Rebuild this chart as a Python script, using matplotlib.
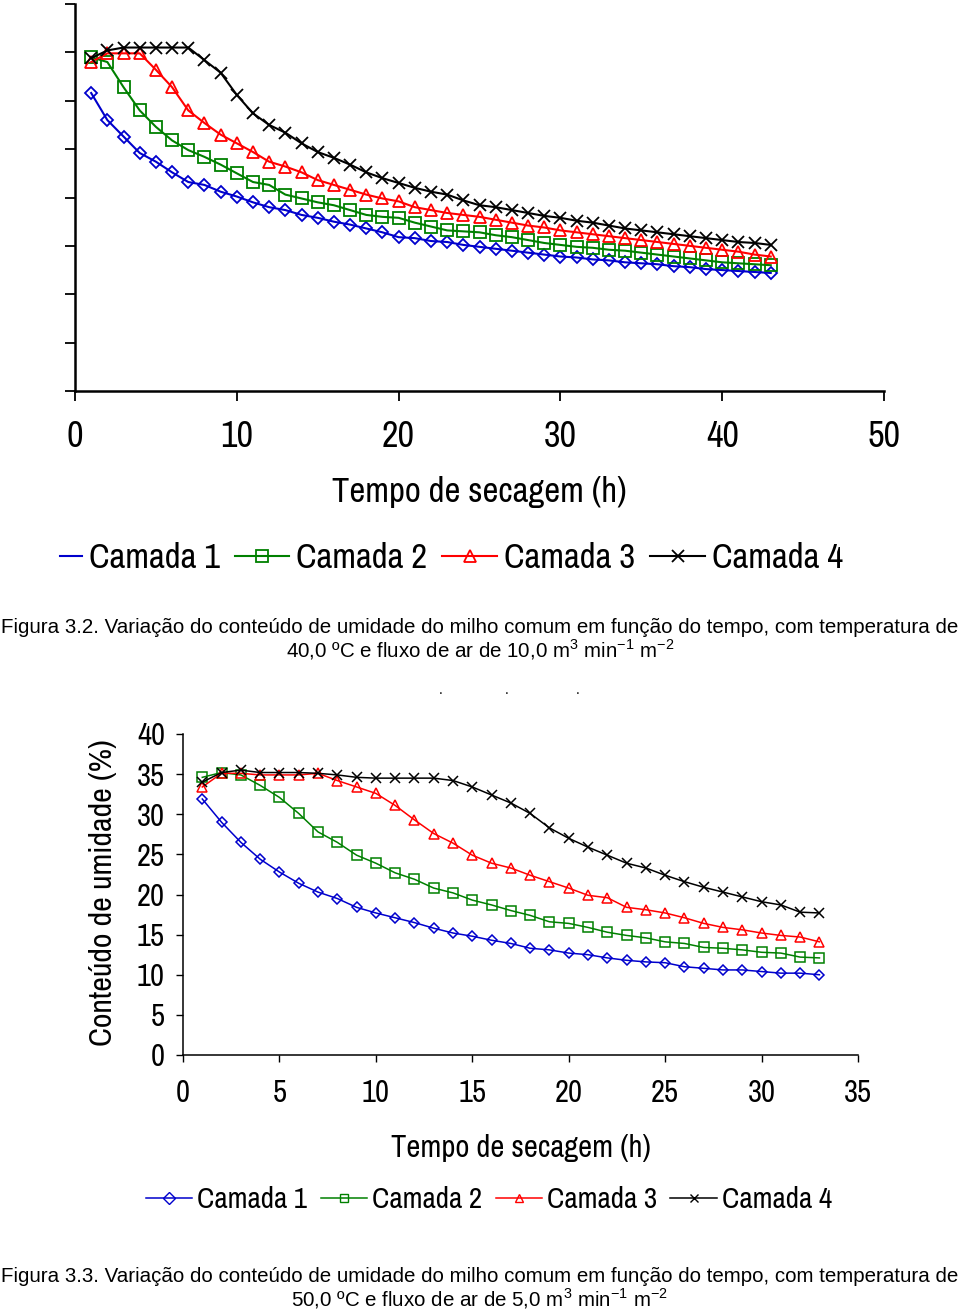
import matplotlib
matplotlib.use("Agg")
import numpy as np
import matplotlib.pyplot as plt
from matplotlib.lines import Line2D
from matplotlib.legend_handler import HandlerLine2D

plt.rcParams['font.family'] = ['Archivo Narrow', 'DejaVu Sans']
plt.rcParams['mathtext.fontset'] = 'custom'
plt.rcParams['mathtext.rm'] = 'Liberation Sans'

# Figura 3.2 - 40 C, 10 m3/min/m2
horas_a = list(range(1, 44))
camada1_a = [30.8, 28.0, 26.3, 24.6, 23.7, 22.6, 21.6, 21.3, 20.6, 20.1,
             19.5, 19.0, 18.7, 18.2, 17.9, 17.5, 17.2, 16.8, 16.4, 15.9,
             15.8, 15.5, 15.4, 15.1, 14.9, 14.7, 14.5, 14.3, 14.1, 13.9,
             13.8, 13.6, 13.5, 13.3, 13.2, 13.1, 12.9, 12.8, 12.6, 12.5,
             12.4, 12.3, 12.2]
camada2_a = [34.5, 34.0, 31.4, 29.0, 27.3, 25.9, 24.9, 24.2, 23.4, 22.5,
             21.6, 21.3, 20.3, 19.9, 19.5, 19.2, 18.7, 18.2, 18.0, 17.9,
             17.4, 17.0, 16.6, 16.5, 16.4, 16.1, 15.9, 15.6, 15.3, 15.1,
             14.9, 14.8, 14.6, 14.5, 14.3, 14.1, 13.9, 13.7, 13.5, 13.3,
             13.2, 13.1, 13.0]
camada3_a = [34.0, 34.9, 34.9, 34.9, 33.2, 31.4, 29.0, 27.7, 26.5, 25.6,
             24.7, 23.7, 23.2, 22.6, 21.8, 21.3, 20.8, 20.3, 19.9, 19.6,
             19.0, 18.7, 18.4, 18.2, 18.0, 17.7, 17.4, 17.1, 16.9, 16.6,
             16.4, 16.2, 16.0, 15.8, 15.6, 15.4, 15.2, 15.0, 14.8, 14.6,
             14.4, 14.1, 13.9]
camada4_a = [34.4, 35.2, 35.5, 35.5, 35.5, 35.5, 35.5, 34.2, 32.9, 30.6,
             28.7, 27.5, 26.7, 25.6, 24.7, 24.1, 23.4, 22.6, 22.0, 21.5,
             21.0, 20.6, 20.3, 19.7, 19.2, 19.0, 18.7, 18.4, 18.1, 17.9,
             17.6, 17.4, 17.1, 16.8, 16.6, 16.4, 16.2, 16.0, 15.8, 15.6,
             15.4, 15.3, 15.1]

# Figura 3.3 - 50 C, 5 m3/min/m2
horas_b = list(range(1, 34))
camada1_b = [31.9, 29.0, 26.5, 24.4, 22.8, 21.4, 20.3, 19.5, 18.4, 17.7,
             17.1, 16.5, 15.8, 15.2, 14.8, 14.3, 13.9, 13.3, 13.1, 12.7,
             12.5, 12.1, 11.8, 11.6, 11.5, 11.0, 10.8, 10.6, 10.6, 10.4,
             10.2, 10.2, 10.0]
camada2_b = [34.6, 35.2, 34.9, 33.6, 32.1, 30.1, 27.8, 26.5, 24.9, 23.9,
             22.7, 21.9, 20.8, 20.2, 19.3, 18.7, 18.0, 17.4, 16.6, 16.4,
             15.9, 15.3, 14.9, 14.6, 14.1, 13.9, 13.4, 13.3, 13.1, 12.8,
             12.7, 12.2, 12.1]
camada3_b = [33.4, 35.1, 35.1, 34.9, 34.9, 34.9, 35.1, 34.2, 33.4, 32.6,
             31.1, 29.3, 27.6, 26.4, 24.9, 23.9, 23.3, 22.4, 21.6, 20.8,
             19.9, 19.6, 18.4, 18.1, 17.7, 17.1, 16.4, 15.9, 15.6, 15.2,
             14.9, 14.7, 14.1]
camada4_b = [34.0, 35.2, 35.5, 35.2, 35.2, 35.2, 35.1, 34.9, 34.6, 34.5,
             34.5, 34.5, 34.5, 34.2, 33.4, 32.4, 31.4, 30.1, 28.3, 27.0,
             25.9, 24.9, 23.9, 23.3, 22.4, 21.6, 20.9, 20.3, 19.7, 19.1,
             18.7, 17.8, 17.7]

nomes = ["Camada 1", "Camada 2", "Camada 3", "Camada 4"]
cores = ["#0000cc", "#008000", "#ff0000", "#000000"]
marcadores = ["D", "s", "^", "x"]

legenda_a = ("Figura 3.2. Variação do conteúdo de umidade do milho comum em função do tempo, com temperatura de\n"
             r"40,0 ºC e fluxo de ar de 10,0 m$^{3}$ min$^{-1}$ m$^{-2}$")
legenda_b = ("Figura 3.3. Variação do conteúdo de umidade do milho comum em função do tempo, com temperatura de\n"
             r"50,0 ºC e fluxo de ar de 5,0 m$^{3}$ min$^{-1}$ m$^{-2}$")


class ShortHandler(HandlerLine2D):
    # the first key of the top legend is cut short in the original
    def create_artists(self, legend, orig_handle, xdescent, ydescent,
                       width, height, fontsize, trans):
        arts = super().create_artists(legend, orig_handle, xdescent, ydescent,
                                      width, height, fontsize, trans)
        for a in arts:
            xd = np.asarray(a.get_xdata(), dtype=float)
            if len(xd) >= 2:
                x0 = xd[0] + 0.6 * (xd[-1] - xd[0])
                a.set_xdata(np.linspace(x0, xd[-1], len(xd)))
        return arts


fig = plt.figure(figsize=(9.6, 13.15), dpi=100)

# ---- top chart ----
ax1 = fig.add_axes([75 / 960, 1 - 391 / 1315, 809 / 960, 387 / 1315])
series_a = [camada1_a, camada2_a, camada3_a, camada4_a]
for vals, cor, m in zip(series_a, cores, marcadores):
    ms = 8 if m != "D" else 6.5
    ax1.plot(horas_a, vals, color=cor, marker=m, ms=ms, mfc="none",
             mew=1.3, lw=1.5)
ax1.set_xlim(0, 50)
ax1.set_ylim(0, 40)
ax1.set_xticks(range(0, 51, 10))
ax1.set_yticks(range(0, 41, 5))
ax1.set_yticklabels([])
ax1.spines["top"].set_visible(False)
ax1.spines["right"].set_visible(False)
ax1.spines["left"].set_linewidth(1.8)
ax1.spines["bottom"].set_linewidth(1.8)
ax1.tick_params(axis="both", direction="out", length=7, width=1.3,
                labelsize=26, pad=14)
ax1.set_xlabel("Tempo de secagem (h)", fontsize=25)
ax1.xaxis.label.set_va("center")
ax1.xaxis.set_label_coords(0.5, (391 - 492) / 387)

h1 = Line2D([], [], color=cores[0], lw=1.5)
handles_a = [h1]
for cor, m in zip(cores[1:], marcadores[1:]):
    handles_a.append(Line2D([], [], color=cor, marker=m, ms=8, mfc="none",
                            mew=1.3, lw=1.5))
fig.legend(handles_a, nomes, loc="center", ncol=4, frameon=False,
           bbox_to_anchor=(435 / 960, 1 - 558 / 1315), fontsize=25,
           handlelength=1.58, handletextpad=0.2, columnspacing=0.43,
           handler_map={h1: ShortHandler()})

fig.text(0.5, 1 - 640 / 1315, legenda_a, ha="center", va="center",
         multialignment="center", fontsize=14.8, linespacing=1.05,
         family="Liberation Sans")
for xp in [441, 507, 578]:
    fig.text(xp / 960, 1 - 690 / 1315, ".", ha="center", va="center",
             fontsize=10, family="Liberation Sans")

# ---- bottom chart ----
ax2 = fig.add_axes([183 / 960, 1 - 1055 / 1315, 675 / 960, 321 / 1315])
series_b = [camada1_b, camada2_b, camada3_b, camada4_b]
for vals, cor, m in zip(series_b, cores, marcadores):
    ms = 7 if m != "D" else 5.5
    ax2.plot(horas_b, vals, color=cor, marker=m, ms=ms, mfc="none",
             mew=1.1, lw=1.1)
ax2.set_xlim(0, 35)
ax2.set_ylim(0, 40)
ax2.set_xticks(range(0, 36, 5))
ax2.set_yticks(range(0, 41, 5))
ax2.spines["top"].set_visible(False)
ax2.spines["right"].set_visible(False)
ax2.spines["left"].set_linewidth(1.1)
ax2.spines["bottom"].set_linewidth(1.1)
ax2.tick_params(axis="both", direction="out", length=5, width=1.0,
                labelsize=22)
ax2.tick_params(axis="x", pad=12)
ax2.tick_params(axis="y", pad=8)
ax2.set_xlabel("Tempo de secagem (h)", fontsize=22)
ax2.xaxis.label.set_va("center")
ax2.xaxis.set_label_coords(0.5, (1055 - 1148) / 321)
ax2.set_ylabel("Conteúdo de umidade (%)", fontsize=23)
ax2.yaxis.label.set_va("center")
ax2.yaxis.set_label_coords((103 - 183) / 675, (1055 - 893) / 321)

handles_b = [Line2D([], [], color=cor, marker=m, ms=6, mfc="none",
                    mew=1.0, lw=1.1) for cor, m in zip(cores, marcadores)]
fig.legend(handles_b, nomes, loc="center", ncol=4, frameon=False,
           bbox_to_anchor=(489 / 960, 1 - 1200 / 1315), fontsize=21,
           handlelength=1.6, handletextpad=0.17, columnspacing=0.45)

fig.text(0.5, 1 - 1289 / 1315, legenda_b, ha="center", va="center",
         multialignment="center", fontsize=14.8, linespacing=1.05,
         family="Liberation Sans")

fig.savefig("out.png", dpi=100)
